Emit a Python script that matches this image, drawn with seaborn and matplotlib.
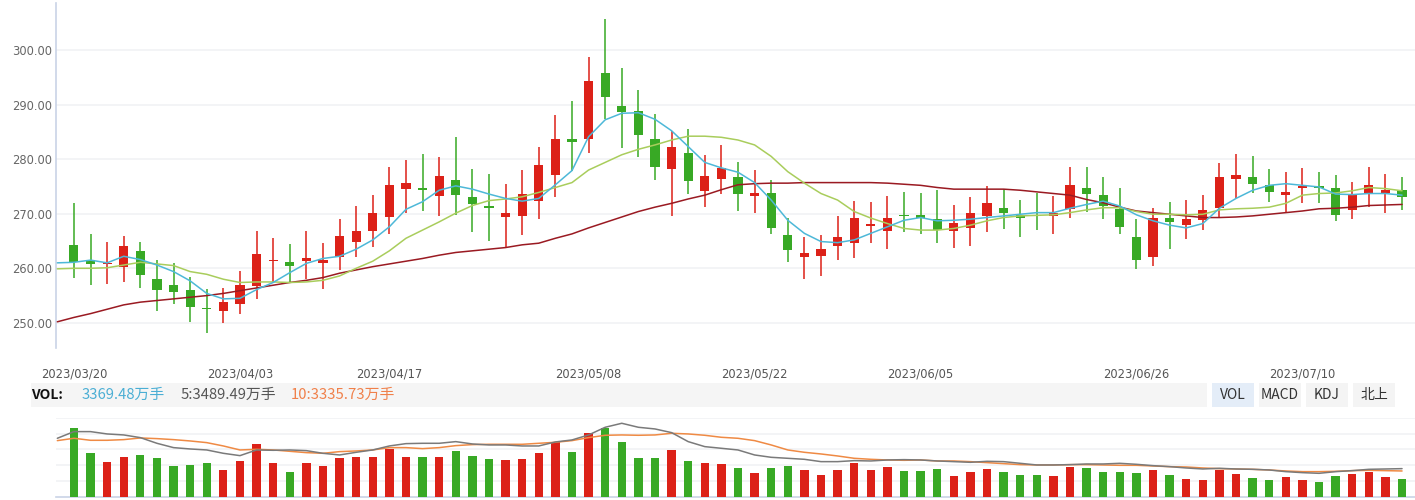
import numpy as np
import pandas as pd
import matplotlib
matplotlib.use("Agg")
import matplotlib.pyplot as plt
import seaborn as sns
from matplotlib.patches import Rectangle

# ---------------- data ----------------
opens = [264.2, 261.5, 260.8, 260.2, 263.1, 258.0, 256.9, 256.0, 252.7, 252.2,
         253.5, 256.8, 261.4, 261.1, 261.3, 261.0, 262.1, 264.8, 266.8, 269.4,
         274.5, 274.8, 273.2, 276.1, 273.0, 271.5, 269.4, 269.6, 272.3, 277.1,
         283.6, 283.7, 295.8, 289.7, 288.8, 283.6, 278.2, 281.2, 274.1, 276.3,
         276.8, 273.3, 273.8, 266.1, 262.1, 262.3, 264.1, 264.7, 267.7, 266.9,
         269.8, 269.8, 269.0, 266.9, 267.4, 269.6, 271.0, 269.8, 269.8, 269.6,
         270.8, 274.7, 273.4, 270.9, 265.7, 262.1, 269.2, 268.0, 268.9, 271.1,
         276.4, 276.7, 275.2, 273.5, 274.8, 275.1, 274.7, 270.7, 273.8, 273.8,
         274.3]
highs = [272.0, 266.2, 264.8, 266.0, 264.8, 261.5, 260.9, 258.4, 256.2, 256.3,
         259.5, 266.8, 265.5, 264.4, 266.8, 264.6, 269.0, 271.5, 273.4, 278.5,
         279.8, 280.9, 280.3, 284.1, 278.1, 277.2, 275.4, 278.0, 282.2, 288.0,
         290.6, 298.7, 305.7, 296.7, 292.6, 288.2, 285.2, 285.5, 280.7, 282.6,
         279.4, 278.0, 276.2, 269.2, 265.7, 266.1, 269.6, 272.3, 272.1, 273.2,
         274.0, 273.8, 274.3, 271.6, 273.0, 275.1, 274.5, 272.5, 273.8, 273.2,
         278.5, 278.5, 276.7, 274.7, 269.0, 271.0, 272.1, 272.5, 273.4, 279.3,
         280.9, 280.5, 278.2, 277.6, 278.4, 277.6, 277.1, 275.8, 278.5, 277.3,
         276.7]
lows = [258.2, 257.0, 257.1, 257.5, 256.4, 252.2, 253.5, 250.1, 248.2, 250.0,
        251.6, 254.3, 257.5, 257.3, 258.0, 256.2, 259.6, 262.1, 263.9, 266.3,
        270.1, 270.5, 269.6, 269.8, 266.6, 265.0, 263.7, 266.1, 269.1, 273.0,
        277.9, 281.1, 287.4, 282.0, 280.4, 276.1, 269.6, 273.7, 271.2, 273.6,
        270.5, 270.2, 266.3, 261.2, 258.1, 258.5, 261.6, 261.8, 264.7, 263.6,
        266.7, 266.3, 264.7, 263.8, 264.0, 266.6, 267.2, 265.8, 267.0, 266.2,
        269.2, 270.4, 269.0, 266.2, 259.9, 260.5, 263.6, 265.4, 267.1, 269.4,
        272.9, 273.8, 272.1, 270.4, 272.0, 272.0, 268.7, 269.1, 271.3, 270.2,
        270.7]
closes = [261.2, 260.8, 261.0, 264.0, 258.8, 256.0, 255.7, 252.9, 252.6, 253.8,
          256.9, 262.6, 261.6, 260.5, 261.8, 261.6, 265.9, 266.8, 270.1, 275.2,
          275.7, 274.3, 277.0, 273.4, 271.8, 271.0, 270.2, 273.6, 279.0, 283.6,
          283.1, 294.3, 291.4, 288.7, 284.4, 278.5, 282.3, 276.0, 277.0, 278.3,
          273.7, 273.8, 267.4, 263.4, 262.8, 263.5, 265.7, 269.2, 268.1, 269.2,
          269.6, 269.2, 267.0, 268.3, 270.1, 272.0, 270.1, 269.3, 269.5, 270.1,
          275.2, 273.6, 271.4, 267.6, 261.6, 269.2, 268.5, 269.0, 270.7, 276.7,
          277.1, 275.5, 274.0, 274.0, 274.9, 274.7, 269.8, 273.5, 275.2, 274.3,
          273.1]

# moving averages as drawn (first value is the day before the first candle)
ma5 = [261.0, 261.1, 261.5, 261.0, 262.2, 261.6, 260.6, 259.4, 257.7, 255.4,
       254.4, 254.5, 256.1, 257.4, 259.2, 260.9, 261.8, 262.2, 263.5, 265.2,
       267.6, 270.8, 272.2, 274.3, 275.1, 274.5, 273.6, 272.8, 272.3, 272.8,
       275.3, 277.9, 284.1, 287.2, 288.4, 288.5, 287.3, 285.2, 282.3, 279.4,
       278.4, 277.6, 275.7, 272.5, 268.8, 266.4, 264.9, 264.7, 265.2, 266.4,
       267.6, 268.8, 269.3, 268.7, 268.8, 269.0, 269.3, 269.6, 269.9, 270.2,
       270.2, 271.0, 271.7, 272.3, 271.4, 269.8, 268.7, 267.9, 267.4, 268.2,
       271.0, 272.8, 274.3, 275.2, 275.5, 275.2, 274.9, 273.6, 273.5, 273.7,
       273.7, 273.4]
ma10 = [259.9, 260.0, 260.0, 260.1, 260.6, 261.1, 260.8, 260.5, 259.4, 258.9,
        258.0, 257.4, 257.5, 257.5, 257.4, 257.5, 257.8, 258.6, 260.0, 261.3,
        263.2, 265.5, 267.0, 268.5, 270.1, 271.5, 272.4, 272.7, 273.1, 273.9,
        274.8, 275.7, 278.0, 279.4, 280.8, 281.8, 282.6, 283.5, 284.2, 284.2,
        284.0, 283.5, 282.6, 280.5, 277.7, 275.6, 273.7, 272.5, 270.4, 269.2,
        268.2, 267.3, 267.0, 267.0, 267.3, 267.9, 268.7, 269.3, 269.6, 269.7,
        269.8, 270.2, 270.7, 271.1, 271.1, 270.4, 269.9, 269.9, 269.8, 269.9,
        270.7, 270.9, 271.0, 271.2, 271.9, 273.4, 273.7, 273.8, 274.2, 274.8,
        274.6, 274.2]
ma_long = [250.2, 251.0, 251.7, 252.5, 253.3, 253.8, 254.1, 254.4, 254.7, 255.0,
           255.4, 255.9, 256.4, 256.9, 257.4, 257.8, 258.3, 259.1, 259.7, 260.3,
           260.8, 261.3, 261.8, 262.4, 262.9, 263.2, 263.5, 263.8, 264.3, 264.6,
           265.5, 266.3, 267.4, 268.4, 269.4, 270.4, 271.2, 271.9, 272.7, 273.4,
           274.4, 275.3, 275.5, 275.6, 275.6, 275.7, 275.7, 275.7, 275.7, 275.7,
           275.6, 275.4, 275.2, 274.8, 274.5, 274.5, 274.5, 274.5, 274.3, 274.0,
           273.7, 273.4, 272.6, 272.0, 271.2, 270.5, 270.2, 269.9, 269.6, 269.3,
           269.3, 269.4, 269.6, 269.9, 270.2, 270.5, 270.9, 271.0, 271.2, 271.5,
           271.6, 271.7]

volumes = [13062, 8329, 6626, 7572, 7951, 7383, 5868, 6058, 6436, 5111,
           6815, 10033, 6436, 4733, 6436, 5868, 7383, 7572, 7572, 9086,
           7572, 7572, 7572, 8708, 7761, 7193, 7004, 7193, 8329, 10412,
           8519, 12115, 13062, 10412, 7383, 7383, 8897, 6815, 6436, 6247,
           5490, 4543, 5490, 5868, 5111, 4165, 5111, 6436, 5111, 5679,
           4922, 4922, 5300, 3975, 4733, 5300, 4733, 4165, 4165, 3975,
           5679, 5490, 4733, 4733, 4543, 5111, 4165, 3407, 3218, 5111,
           4354, 3597, 3218, 3786, 3218, 2840, 3975, 4354, 4733, 3786,
           3407]
vol_ma5 = [11106, 12368, 12368, 11926, 11737, 11232, 10159, 9339, 9086, 8897,
           8266, 7824, 8897, 8834, 8897, 8771, 8266, 7951, 8455, 8897,
           9654, 10096, 10159, 10159, 10475, 10033, 9844, 9844, 9654, 9654,
           10412, 10790, 11737, 13188, 13945, 13188, 12872, 12178, 10475, 9528,
           9213, 8897, 7951, 7509, 7320, 7130, 6689, 6689, 6878, 6815,
           7004, 7067, 7004, 6815, 6689, 6562, 6752, 6689, 6373, 6058,
           6058, 6121, 6247, 6247, 6373, 6184, 5931, 5742, 5490, 5300,
           5427, 5300, 5237, 5111, 4796, 4606, 4480, 4796, 4985, 5237,
           5300, 5364]
vol_ma10 = [10664, 11106, 10727, 10727, 10853, 11169, 11043, 10853, 10601, 10285,
            9654, 8897, 9023, 8897, 8645, 8392, 8266, 8582, 8708, 8897,
            9339, 9339, 9150, 9339, 9717, 9907, 9970, 9970, 9970, 10159,
            10348, 10664, 11232, 11674, 11737, 11674, 11737, 12052, 11926, 11674,
            11295, 11106, 10664, 9844, 8897, 8455, 8140, 7761, 7320, 7130,
            7004, 6941, 7004, 6815, 6815, 6689, 6499, 6310, 6121, 6058,
            6058, 6121, 6121, 6058, 5994, 5994, 5868, 5742, 5679, 5490,
            5364, 5300, 5237, 5111, 4922, 4796, 4796, 4859, 4985, 5048,
            4985, 4922]

tick_pos = [0, 10, 19, 31, 41, 51, 64, 74]
tick_labels = ["2023/03/20", "2023/04/03", "2023/04/17", "2023/05/08",
               "2023/05/22", "2023/06/05", "2023/06/26", "2023/07/10"]
price_ticks = [250, 260, 270, 280, 290, 300]
vol_label = "3369.48万手"
vol_ma5_label = "5:3489.49万手"
vol_ma10_label = "10:3335.73万手"
buttons = ["VOL", "MACD", "KDJ", "北上"]

# ---------------- styling ----------------
sns.set_theme(style="white")
plt.rcParams["font.family"] = ["DejaVu Sans", "Noto Sans CJK SC"]

RED = "#dc2118"
GREEN = "#38a925"
C_MA5 = "#4db8d8"
C_MA10 = "#a9cd5c"
C_LONG = "#9a1a22"
C_VMA5 = "#7a7a7a"
C_VMA10 = "#ef8a44"
GRID = "#f1f2f5"
AXIS = "#c9d3e6"

W, H = 1415, 500
fig = plt.figure(figsize=(W / 100, H / 100), dpi=100)


def fx(px):
    return px / W


def fy(py):
    return 1 - py / H


XMIN, XMAX = -1.08, 80.78

df = pd.DataFrame({"open": opens, "high": highs, "low": lows, "close": closes,
                   "volume": volumes})
df["x"] = np.arange(len(df))
df["up"] = df["close"] >= df["open"]
colors = np.where(df["up"], RED, GREEN)

ma_df = pd.DataFrame({"x": np.arange(-1, len(df)), "ma5": ma5, "ma10": ma10,
                      "ma_long": ma_long, "vma5": vol_ma5, "vma10": vol_ma10})

# ---------------- price panel ----------------
ax = fig.add_axes([fx(56), fy(348), fx(W - 56), (348 - 3) / H])
ax.set_xlim(XMIN, XMAX)
ax.set_ylim(245.4, 308.6)
ax.set_axisbelow(True)
ax.yaxis.grid(True, color=GRID, lw=1.2)
ax.xaxis.grid(False)

ax.vlines(df["x"], df["low"], df["high"], colors=colors, lw=1.1, zorder=2)
body_bottom = np.minimum(df["open"], df["close"])
body_h = np.maximum(np.abs(df["close"] - df["open"]), 0.2)
ax.bar(df["x"], body_h, bottom=body_bottom, width=0.55, color=colors,
       linewidth=0, zorder=3)

sns.lineplot(data=ma_df, x="x", y="ma_long", ax=ax, color=C_LONG, lw=1.1,
             zorder=4, legend=False)
sns.lineplot(data=ma_df, x="x", y="ma10", ax=ax, color=C_MA10, lw=1.1,
             zorder=4, legend=False)
sns.lineplot(data=ma_df, x="x", y="ma5", ax=ax, color=C_MA5, lw=1.1,
             zorder=4, legend=False)

ax.set_yticks(price_ticks)
ax.set_yticklabels([f"{v:.2f}" for v in price_ticks])
ax.set_xticks(tick_pos)
ax.set_xticklabels(tick_labels)
ax.tick_params(axis="y", length=0, pad=3, labelsize=8.3, labelcolor="#666666")
ax.tick_params(axis="x", length=0, pad=14, labelsize=8.3, labelcolor="#555555")
ax.set_xlabel("")
ax.set_ylabel("")
for s in ["top", "right", "bottom"]:
    ax.spines[s].set_visible(False)
ax.spines["left"].set_color(AXIS)
ax.spines["left"].set_linewidth(1.2)

# ---------------- header band ----------------
fig.add_artist(Rectangle((fx(31), fy(406.5)), fx(1207 - 31), 23.5 / H,
                         transform=fig.transFigure, color="#f5f5f5", lw=0,
                         zorder=0))
cjk = ["Noto Sans CJK SC", "DejaVu Sans"]
ty = fy(395)
fig.text(fx(31), ty, "VOL:", fontsize=10, fontweight="bold", color="#111111",
         va="center", ha="left", family=cjk)
fig.text(fx(82), ty, vol_label, fontsize=10.7, color="#4aaed4", va="center",
         ha="left", family=cjk)
fig.text(fx(181), ty, vol_ma5_label, fontsize=10.7, color="#555555",
         va="center", ha="left", family=cjk)
fig.text(fx(291), ty, vol_ma10_label, fontsize=10.7, color="#f0804a",
         va="center", ha="left", family=cjk)

btn_x = [1212, 1259, 1306, 1353]
for i, (bx, name) in enumerate(zip(btn_x, buttons)):
    bg = "#e4edf8" if i == 0 else "#f4f4f4"
    fig.add_artist(Rectangle((fx(bx), fy(406.5)), fx(42), 23.5 / H,
                             transform=fig.transFigure, color=bg, lw=0,
                             zorder=0))
    fig.text(fx(bx + 21), ty, name, fontsize=10, color="#333333",
             va="center", ha="center", family=cjk)

# ---------------- volume panel ----------------
axv = fig.add_axes([fx(56), fy(497), fx(W - 56), (497 - 417.7) / H])
axv.set_xlim(XMIN, XMAX)
axv.set_ylim(0, 15000)
axv.set_axisbelow(True)
axv.set_yticks([3000, 6000, 9000, 12000, 15000])
axv.yaxis.grid(True, color=GRID, lw=1.2)
axv.bar(df["x"], df["volume"], width=0.5, color=colors, linewidth=0, zorder=3)
sns.lineplot(data=ma_df, x="x", y="vma10", ax=axv, color=C_VMA10, lw=1.1,
             zorder=4, legend=False)
sns.lineplot(data=ma_df, x="x", y="vma5", ax=axv, color=C_VMA5, lw=1.1,
             zorder=4, legend=False)
axv.set_xticks([])
axv.tick_params(axis="y", length=0, labelleft=False)
axv.set_xlabel("")
axv.set_ylabel("")
for s in ["top", "right", "left"]:
    axv.spines[s].set_visible(False)
axv.spines["bottom"].set_color(AXIS)
axv.spines["bottom"].set_linewidth(1.2)

fig.savefig("out.png", dpi=100)
